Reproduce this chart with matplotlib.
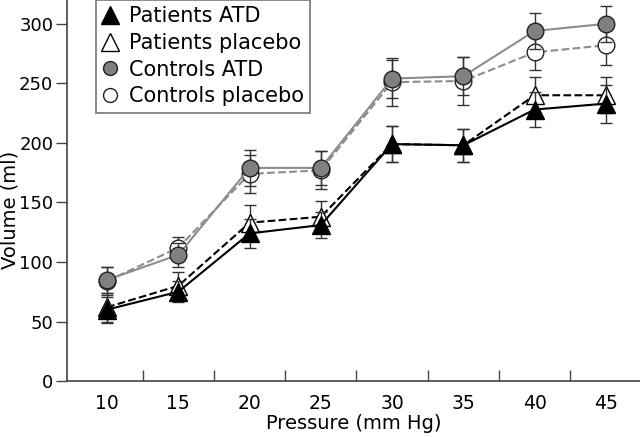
import matplotlib.pyplot as plt
from matplotlib.lines import Line2D
import numpy as np

plt.rcParams['font.family'] = ['DejaVu Sans']

# Data
pressure = [10, 15, 20, 25, 30, 35, 40, 45]

pat_atd = [60, 75, 124, 131, 199, 198, 228, 233]
pat_atd_err = [11, 9, 12, 11, 15, 14, 15, 16]

pat_plc = [62, 80, 133, 138, 199, 198, 240, 240]
pat_plc_err = [12, 12, 15, 13, 15, 14, 15, 15]

ctl_atd = [85, 106, 179, 179, 254, 256, 294, 300]
ctl_atd_err = [11, 10, 15, 14, 16, 16, 15, 15]

ctl_plc = [84, 112, 174, 177, 251, 252, 276, 282]
ctl_plc_err = [12, 9, 16, 16, 20, 20, 15, 17]

fig = plt.figure(figsize=(6.4, 4.37), dpi=100)
ax = fig.add_axes([0.105, 0.128, 0.895, 0.872])

grey = '#8c8c8c'
eb = dict(ecolor='#333333', elinewidth=1.0, capsize=4, capthick=1.0)

# controls first so patients are drawn on top
ax.errorbar(pressure, ctl_plc, yerr=ctl_plc_err, color=grey, ls='--', lw=1.5,
            marker='o', ms=12, mfc='white', mec='#222222', mew=1.0, zorder=3, **eb)
ax.errorbar(pressure, ctl_atd, yerr=ctl_atd_err, color=grey, ls='-', lw=1.5,
            marker='o', ms=12, mfc='#808080', mec='#222222', mew=1.0, zorder=4, **eb)
ax.errorbar(pressure, pat_plc, yerr=pat_plc_err, color='black', ls='--', lw=1.5,
            marker='^', ms=13, mfc='white', mec='black', mew=1.0, zorder=5, **eb)
ax.errorbar(pressure, pat_atd, yerr=pat_atd_err, color='black', ls='-', lw=1.5,
            marker='^', ms=13, mfc='black', mec='black', mew=1.0, zorder=6, **eb)

ax.set_xlim(7.2, 47.4)
ax.set_ylim(0, 320)

ax.spines['top'].set_visible(False)
ax.spines['right'].set_visible(False)
for s in ('left', 'bottom'):
    ax.spines[s].set_color('#444444')
    ax.spines[s].set_linewidth(1.2)

ax.set_xticks(pressure)
ax.set_xticklabels([str(p) for p in pressure])
ax.set_xticks(np.arange(12.5, 45, 5), minor=True)
ax.tick_params(axis='x', which='major', length=0, pad=9, labelsize=13.5)
ax.tick_params(axis='x', which='minor', direction='in', length=8, width=1, color='#444444')
ax.set_yticks(np.arange(0, 301, 50))
ax.tick_params(axis='y', direction='out', length=8, width=1, color='#444444',
               pad=2, labelsize=13)

ax.set_xlabel('Pressure (mm Hg)', fontsize=14, labelpad=1)
fig.text(10 / 640, 0.52, 'Volume (ml)', rotation=90, ha='center', va='center',
         fontsize=14)

# legend with marker-only handles
handles = [
    Line2D([], [], ls='none', marker='^', ms=13, mfc='black', mec='black'),
    Line2D([], [], ls='none', marker='^', ms=13, mfc='white', mec='black'),
    Line2D([], [], ls='none', marker='o', ms=10, mfc='#808080', mec='#222222'),
    Line2D([], [], ls='none', marker='o', ms=10, mfc='white', mec='#222222'),
]
labels = ['Patients ATD', 'Patients placebo', 'Controls ATD', 'Controls placebo']
leg = ax.legend(handles, labels, loc='upper left', bbox_to_anchor=(0.05, 1.0),
                fontsize=15, frameon=True, fancybox=False, handlelength=0.8,
                handletextpad=0.5, borderpad=0.3, labelspacing=0.32, borderaxespad=0)
leg.get_frame().set_edgecolor('#555555')
leg.get_frame().set_linewidth(1.2)

fig.savefig('out.png', dpi=100)
